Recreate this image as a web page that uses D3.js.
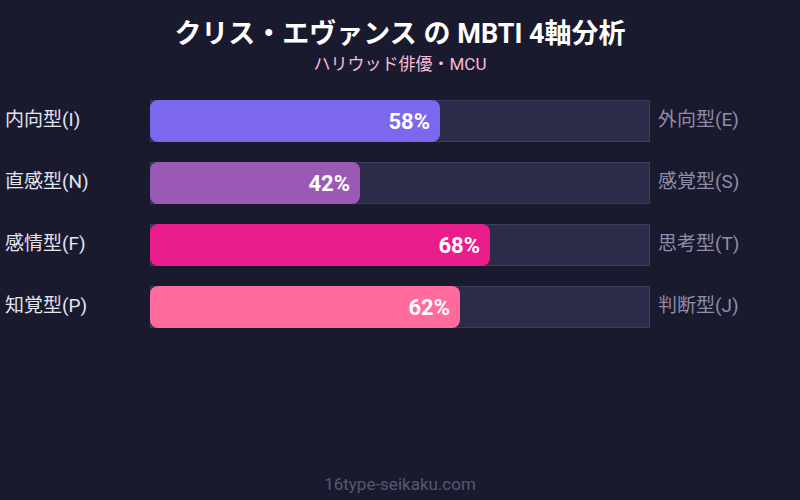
<!DOCTYPE html>
<meta charset="utf-8">
<style>
body { margin: 0; background: #1a1a2e; }
svg { display: block; font-family: Roboto, "Noto Sans CJK JP", sans-serif; }
</style>
<body>
<script src="https://d3js.org/d3.v7.min.js"></script>
<script>

var width = 800,
    height = 500;

var leftLabels = ["内向型(I)", "直感型(N)", "感情型(F)", "知覚型(P)"];
var rightLabels = ["外向型(E)", "感覚型(S)", "思考型(T)", "判断型(J)"];
var values = [58, 42, 68, 62];
var colors = ["#7b68ee", "#9b59b6", "#e91e8c", "#ff6b9d"];

var svg = d3.select("body").append("svg")
    .attr("width", width)
    .attr("height", height);

svg.append("rect")
    .attr("width", width)
    .attr("height", height)
    .attr("fill", "#1a1a2e");

svg.append("text")
    .attr("x", width / 2)
    .attr("y", 43)
    .attr("text-anchor", "middle")
    .attr("fill", "#fff")
    .attr("font-size", 27)
    .attr("font-weight", "bold")
    .text("クリス・エヴァンス の MBTI 4軸分析");

svg.append("text")
    .attr("x", width / 2)
    .attr("y", 70)
    .attr("text-anchor", "middle")
    .attr("fill", "#f8bbd9")
    .attr("font-size", 17)
    .text("ハリウッド俳優・MCU");

var x = d3.scaleLinear().domain([0, 100]).range([150, 650]);

// 42px bars every 62px
var y = d3.scaleBand()
    .domain(d3.range(values.length))
    .range([100, 328])
    .paddingInner(0.3226)
    .paddingOuter(0);

var rows = svg.selectAll("g.row")
    .data(values)
  .enter().append("g")
    .attr("class", "row");

// track
rows.append("rect")
    .attr("x", x(0) + 0.5)
    .attr("y", (d, i) => y(i) + 0.5)
    .attr("width", x(100) - x(0) - 1)
    .attr("height", y.bandwidth() - 1)
    .attr("fill", "#2d2b4a")
    .attr("stroke", "#3d3b5e")
    .attr("stroke-width", 1);

// filled bar
rows.append("rect")
    .attr("x", x(0))
    .attr("y", (d, i) => y(i))
    .attr("width", d => x(d) - x(0))
    .attr("height", y.bandwidth())
    .attr("rx", 8)
    .attr("fill", (d, i) => colors[i]);

rows.append("text")
    .attr("x", d => x(d) - 10)
    .attr("y", (d, i) => y(i) + y.bandwidth() / 2)
    .attr("dy", "0.36em")
    .attr("text-anchor", "end")
    .attr("fill", "#fff")
    .attr("font-size", 22)
    .attr("font-weight", "bold")
    .text(d => d + "%");

rows.append("text")
    .attr("x", 5)
    .attr("y", (d, i) => y(i) + y.bandwidth() / 2 - 2)
    .attr("dy", "0.36em")
    .attr("fill", "#e4e4f0")
    .attr("font-size", 19)
    .text((d, i) => leftLabels[i]);

rows.append("text")
    .attr("x", 658)
    .attr("y", (d, i) => y(i) + y.bandwidth() / 2 - 2)
    .attr("dy", "0.36em")
    .attr("fill", "#8e8ea6")
    .attr("font-size", 19)
    .text((d, i) => rightLabels[i]);

svg.append("text")
    .attr("x", width / 2)
    .attr("y", 490)
    .attr("text-anchor", "middle")
    .attr("fill", "#555872")
    .attr("font-size", 17)
    .text("16type-seikaku.com");

</script>
